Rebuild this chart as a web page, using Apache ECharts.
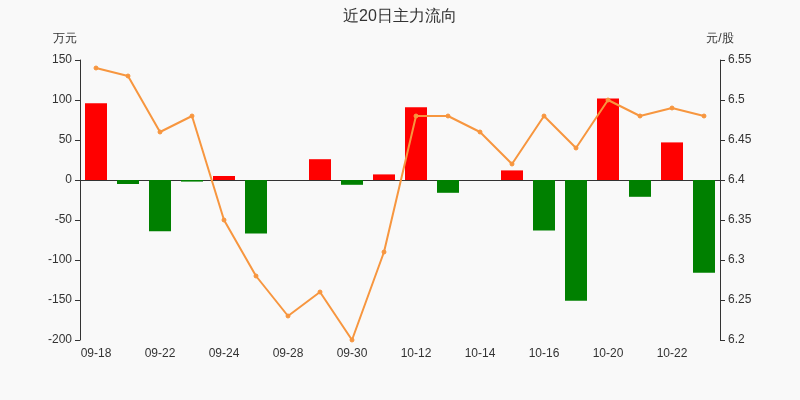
<!DOCTYPE html>
<html><head><meta charset="utf-8">
<script src="https://cdn.jsdelivr.net/npm/echarts@6/dist/echarts.min.js"></script>
<style>html,body{margin:0;background:#f9f9f9}#c{width:800px;height:400px}</style>
</head><body><div id="c"></div>
<script>
const categories=['09-18','09-21','09-22','09-23','09-24','09-25','09-28','09-29','09-30','10-09','10-12','10-13','10-14','10-15','10-16','10-19','10-20','10-21','10-22','10-23'];
const flow=[96,-5,-64,-2,5,-67,0,26,-6,7,91,-16,0,12,-63,-151,102,-21,47,-116];
const price=[6.54,6.53,6.46,6.48,6.35,6.28,6.23,6.26,6.20,6.31,6.48,6.48,6.46,6.42,6.48,6.44,6.50,6.48,6.49,6.48];
const c=echarts.init(document.getElementById('c'));
const ax={color:'#333',fontSize:12};
c.setOption({
 backgroundColor:'#f9f9f9',
 title:{text:'近20日主力流向',left:'center',top:4,textStyle:{fontSize:16,fontWeight:'normal',color:'#333'}},
 grid:{left:80,right:80,top:60,bottom:60},
 xAxis:{type:'category',data:categories,axisTick:{alignWithLabel:true},axisLine:{lineStyle:{color:'#333'}},axisLabel:{...ax,interval:1}},
 yAxis:[{type:'value',name:'万元',min:-200,max:150,interval:50,nameTextStyle:{color:'#333',padding:[0,0,0,-30]},splitLine:{show:false},axisLine:{show:true,lineStyle:{color:'#333'}},axisTick:{show:true},axisLabel:ax},
 {type:'value',name:'元/股',min:6.2,max:6.55,interval:0.05,nameTextStyle:{color:'#333',padding:[0,0,0,0]},splitLine:{show:false},axisLine:{show:true,lineStyle:{color:'#333'}},axisTick:{show:true},axisLabel:{...ax,formatter:v=>String(+v.toFixed(2))}}],
 series:[{type:'bar',data:flow,barWidth:22,itemStyle:{color:p=>p.value>=0?'#ff0000':'#008000'}},
 {type:'line',yAxisIndex:1,data:price,symbol:'circle',symbolSize:4,itemStyle:{color:'#f7963f',borderColor:'#f7963f'},lineStyle:{color:'#f7963f',width:2},showAllSymbol:true}]
});
</script></body></html>
